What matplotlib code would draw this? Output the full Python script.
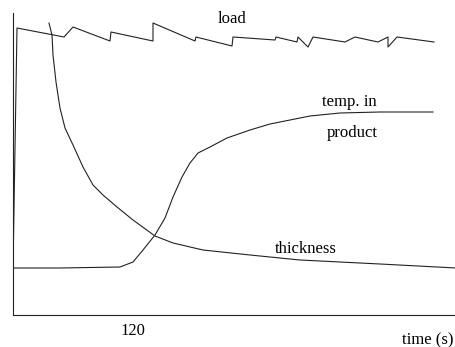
import matplotlib
matplotlib.use("Agg")
import matplotlib.pyplot as plt

# time in seconds, levels in arbitrary units
load_t = [0, 4, 51, 60, 97, 98, 140, 140, 182, 183, 219, 220, 262, 263,
          284, 285, 295, 300, 332, 342, 365, 375, 375, 384, 421]
load_y = [47, 287, 278, 288, 274, 283, 274, 292, 274, 278, 269, 278, 275, 278,
          273, 278, 268, 278, 273, 278, 273, 278, 268, 278, 273]

thick_t = [36, 39, 40, 43, 47, 52, 60, 70, 80, 90, 104, 120, 142, 160,
           190, 237, 287, 367, 443]
thick_y = [292, 280, 260, 233, 207, 187, 170, 148, 130, 120, 108, 95, 79, 72,
           65, 60, 55, 51, 47]

temp_t = [0, 47, 107, 120, 130, 142, 152, 160, 169, 177, 185, 197, 214,
          237, 257, 277, 297, 327, 367, 420]
temp_y = [47, 47, 48, 53, 65, 80, 97, 118, 138, 152, 162, 168, 177,
          185, 191, 195, 199, 202, 203, 203]

tick_pos = [120]
tick_lab = ["120"]

plt.rcParams['font.family'] = ['Liberation Serif', 'DejaVu Serif']

fig = plt.figure(figsize=(4.56, 3.47), dpi=100)
ax = fig.add_axes([13 / 456, 32 / 347, 443 / 456, 302 / 347])

lc = '#222222'
ax.plot(load_t, load_y, color=lc, lw=0.8)
ax.plot(thick_t, thick_y, color=lc, lw=0.8)
ax.plot(temp_t, temp_y, color=lc, lw=0.8)

ax.set_xlim(0, 443)
ax.set_ylim(0, 302)

for s in ['top', 'right']:
    ax.spines[s].set_visible(False)
for s in ['left', 'bottom']:
    ax.spines[s].set_linewidth(0.8)
    ax.spines[s].set_color(lc)

ax.set_yticks([])
ax.set_xticks(tick_pos)
ax.set_xticklabels(tick_lab, fontsize=12)
ax.tick_params(axis='x', length=0, pad=6)

# curve labels
ax.text(219, 292, "load", fontsize=12, ha='center', va='baseline')
ax.text(336, 209, "temp. in", fontsize=12, ha='center', va='baseline')
ax.text(339, 178, "product", fontsize=12, ha='center', va='baseline')
ax.text(293, 62, "thickness", fontsize=12, ha='center', va='baseline')
ax.text(415, -29, "time (s)", fontsize=12, ha='center', va='baseline', clip_on=False)

fig.savefig("out.png", dpi=100)
